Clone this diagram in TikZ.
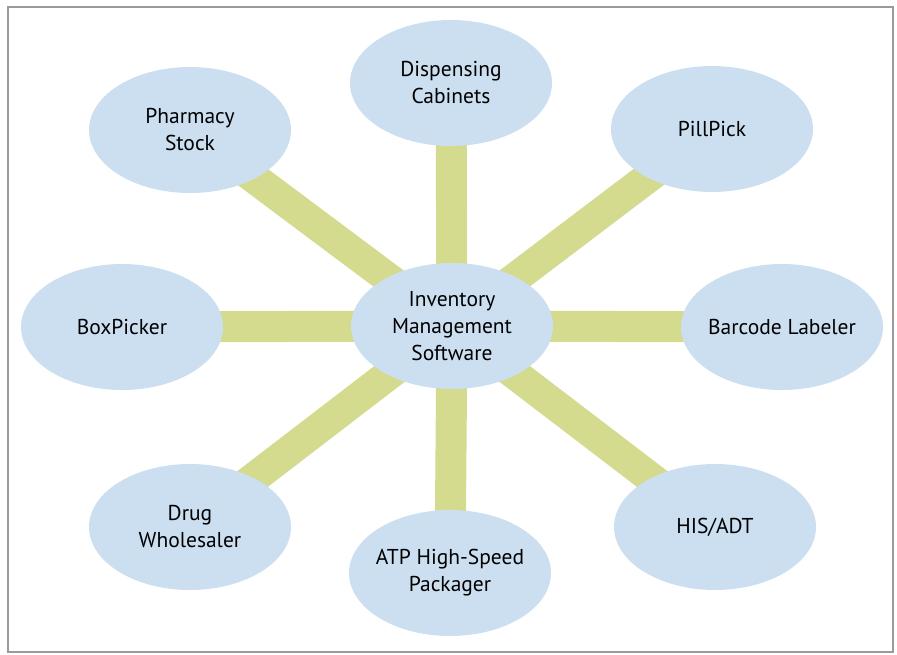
\documentclass[tikz,border=0pt]{standalone}
\usepackage{fontspec}
\setmainfont{PT Sans}
\usetikzlibrary{shapes.geometric}
\definecolor{ellfill}{HTML}{CCDFF0}
\definecolor{barcol}{HTML}{D4DA8E}
\definecolor{framecol}{HTML}{9A9A9A}
\begin{document}
\begin{tikzpicture}[x=1pt,y=-1pt,
  bubble/.style={ellipse, fill=ellfill, minimum width=202pt, minimum height=126pt,
    inner xsep=-25pt, inner ysep=-10pt,
    align=center, font=\fontsize{21.5}{27}\selectfont, text=black},
  bar/.style={draw=barcol, line width=31pt}]
\useasboundingbox (0,0) rectangle (897,654);
\draw[framecol, line width=2pt] (8,7) rectangle (893,652);
\coordinate (c) at (452,326);
\coordinate (p1) at (451,83);
\coordinate (p2) at (190,130);
\coordinate (p3) at (712,129);
\coordinate (p4) at (122,327);
\coordinate (p5) at (782,327);
\coordinate (p6) at (190,527);
\coordinate (p7) at (450,573);
\coordinate (p8) at (715,527);
\foreach \p in {p1,p2,p3,p4,p5,p6,p7,p8} \draw[bar] (c) -- (\p);
\node[bubble] (ims) at (c) {Inventory\\Management\\Software};
\node[bubble] (dc) at (p1) {Dispensing\\Cabinets};
\node[bubble] (ps) at (p2) {Pharmacy\\Stock};
\node[bubble] (pp) at (p3) {PillPick};
\node[bubble] (bp) at (p4) {BoxPicker};
\node[bubble] (bl) at (p5) {Barcode Labeler};
\node[bubble] (dw) at (p6) {Drug\\Wholesaler};
\node[bubble] (atp) at (p7) {ATP High-Speed\\Packager};
\node[bubble] (his) at (p8) {HIS/ADT};
\end{tikzpicture}
\end{document}
